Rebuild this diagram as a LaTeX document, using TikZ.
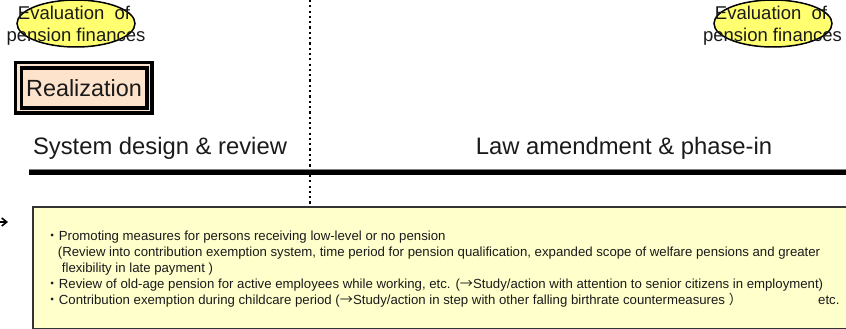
\documentclass[tikz,border=0pt]{standalone}
\usepackage{fontspec}
\setmainfont{Liberation Sans}
\newfontfamily\cjk{Noto Sans CJK JP}
\usetikzlibrary{shapes.geometric,arrows.meta}
\definecolor{txt}{HTML}{1A1A1A}
\definecolor{evalyellow}{HTML}{FFFF70}
\definecolor{peach}{HTML}{FDE2CC}
\definecolor{boxyellow}{HTML}{FFFFCC}
\definecolor{edgegray}{HTML}{333333}
\tikzset{
  evalellipse/.style={ellipse, draw=black, line width=1.5pt, fill=evalyellow, minimum width=118pt, minimum height=47pt, inner sep=0pt},
  evaltext/.style={anchor=base, inner sep=0pt, text=txt, font=\fontsize{18.5}{22}\selectfont},
  headtext/.style={anchor=base, inner sep=0pt, text=txt, font=\fontsize{23.8}{28}\selectfont},
  linetext/.style={anchor=base west, inner sep=0pt, text=txt, font=\fontsize{13.2}{15.8}\selectfont},
}
\begin{document}
\begin{tikzpicture}[x=1pt,y=-1pt]
\useasboundingbox (0,0) rectangle (846,329);
% dotted divider
\coordinate (divTop) at (310,0);
\coordinate (divBot) at (310,329);
\draw[line width=2.2pt, dash pattern=on 2.2pt off 3.1pt] (divTop) -- (divBot);
% ellipses
\node[evalellipse] (ellL) at (76,23.5) {};
\node[evalellipse] (ellR) at (773,23.5) {};
\node[evaltext] (evalLa) at (74,20) {Evaluation\ \ of};
\node[evaltext] (evalLb) at (76,42) {pension finances};
\node[evaltext] (evalRa) at (771,20) {Evaluation\ \ of};
\node[evaltext] (evalRb) at (772.5,42) {pension finances};
% realization double box
\fill[peach] (15.7,62.3) rectangle (152,113);
\draw[line width=3.3pt] (15.7,62.3) rectangle (152,113);
\draw[line width=3.6pt] (21.3,67.8) rectangle (147,108);
\node[headtext, font=\fontsize{23.4}{28}\selectfont, anchor=center] (real) at (84,88) {Realization};
% headings
\node[headtext] (sys) at (160,154) {System design \& review};
\node[headtext] (law) at (624,154) {Law amendment \& phase-in};
% thick line
\coordinate (thL) at (29,172);
\coordinate (thR) at (846,172);
\draw[line width=6.4pt, gray] (thL) -- (thR);
\draw[line width=5pt, black] (thL) -- (thR);
% left arrow tip
\coordinate (arrL) at (-8,222);
\coordinate (arrTip) at (8,222);
\draw[line width=1.6pt, -{Straight Barb[length=5pt,width=8pt]}] (arrL) -- (arrTip);
% yellow box
\node[draw=edgegray, line width=2pt, fill=boxyellow, minimum width=820pt, minimum height=122pt, anchor=north west, inner sep=0pt] (box) at (32,206) {};
\node[linetext] (l1) at (45.5,240.7) {{\cjk ・}Promoting measures for persons receiving low-level or no pension};
\node[linetext] (l2) at (57.7,256.5) {(Review into contribution exemption system, time period for pension qualification, expanded scope of welfare pensions and greater};
\node[linetext] (l3) at (61.7,272.2) {flexibility in late payment )};
\node[linetext] (l4) at (45.5,288) {{\cjk ・}Review of old-age pension for active employees while working, etc. ({\cjk →}Study/action with attention to senior citizens in employment)};
\node[linetext] (l5) at (45.5,304) {{\cjk ・}Contribution exemption during childcare period ({\cjk →}Study/action in step with other falling birthrate countermeasures {\cjk ）}};
\node[linetext] (etc) at (818,304) {etc.};
\end{tikzpicture}
\end{document}
